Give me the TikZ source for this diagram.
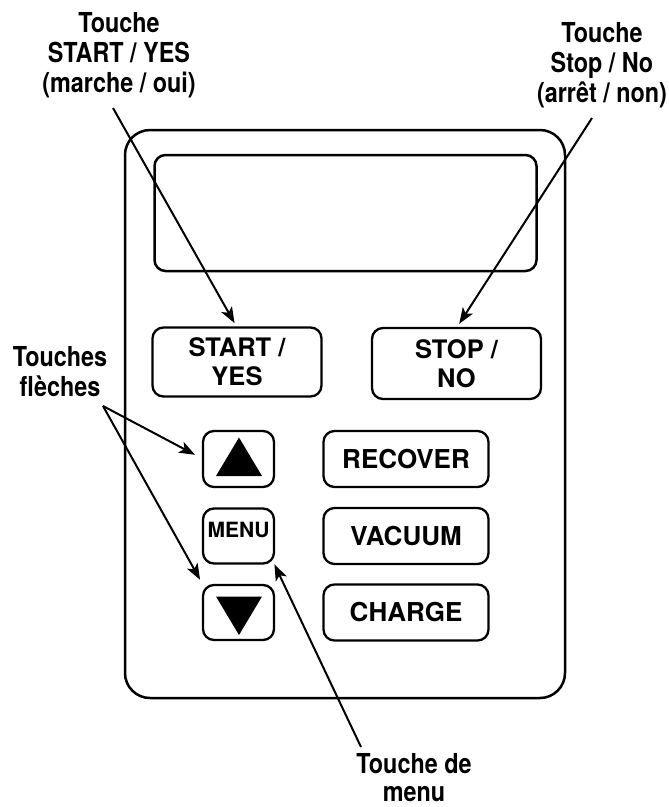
\documentclass[tikz,border=0pt]{standalone}
\usepackage{fontspec}
\setmainfont{TeX Gyre Heros}
\newfontfamily\calloutfont{TeX Gyre Heros}[FakeStretch=0.85]
\usetikzlibrary{arrows.meta, calc}

\begin{document}
\begin{tikzpicture}[
  x=1pt, y=-1pt,
  every node/.style={inner sep=0pt, outer sep=0pt},
  casing/.style={draw, line width=2.5pt, rounded corners=25pt},
  keycap/.style={draw, line width=2.3pt, rounded corners=11pt,
                 minimum width=165pt, minimum height=56pt, align=center,
                 font=\bfseries\fontsize{26}{29}\selectfont},
  smallkey/.style={keycap, minimum width=71pt},
  callout/.style={anchor=north, align=center,
                  font=\calloutfont\bfseries\fontsize{27.5}{30}\selectfont},
  arr/.style={-{Stealth[length=16pt, width=12pt, inset=4pt]}, line width=2pt},
]
  \useasboundingbox (0,0) rectangle (669,807);

  % housing and display
  \node[casing, minimum width=440pt, minimum height=568pt] (panel) at (345,414) {};
  \node[casing, rounded corners=11pt, minimum width=382pt, minimum height=116pt]
    (screen) at (345.5,213) {};

  % keys
  \node[keycap, minimum width=169pt, minimum height=69pt,
        font=\bfseries\fontsize{25.5}{29}\selectfont] (start) at (237,362) {START /\\YES};
  \node[keycap, minimum width=169pt, minimum height=71pt,
        font=\bfseries\fontsize{25.5}{29}\selectfont] (stop) at (456.5,363.5) {STOP /\\NO};
  \node[smallkey] (up)   at (238.5,459) {};
  \node[smallkey, minimum height=55pt, text depth=12pt,
        font=\bfseries\fontsize{21}{24}\selectfont] (menu) at (238.5,536) {MENU};
  \node[smallkey, minimum height=55pt] (down) at (238.5,612.5) {};
  \node[keycap] (recover) at (406,459)   {RECOVER};
  \node[keycap] (vacuum)  at (406,536)   {VACUUM};
  \node[keycap] (charge)  at (406,612.5) {CHARGE};

  % arrow glyphs on the small keys
  \fill ($(up.center)+(0.5,-21.5)$) -- ++(23,38.5) -- ++(-46,0) -- cycle;
  \fill ($(down.center)+(0.5,22.5)$) -- ++(23,-38.5) -- ++(-46,0) -- cycle;

  % callouts
  \node[callout] (yesLabel)   at (119,12)  {Touche\\START / YES\\(marche / oui)};
  \node[callout] (noLabel)    at (602,22)  {Touche\\Stop / No\\(arrêt / non)};
  \node[callout] (arrowLabel) at (60,346)  {Touches\\flèches};
  \node[callout, font=\calloutfont\bfseries\fontsize{27.5}{28.5}\selectfont]
    (menuLabel) at (414,753) {Touche de\\menu};

  \coordinate (yesTail)   at (113,108);
  \coordinate (noTail)    at (592,118);
  \coordinate (arrowTail) at (103,406);
  \coordinate (menuTail)  at (361,747);

  \draw[arr, shorten >=5pt] (yesTail) -- (start.north);
  \draw[arr, shorten >=5pt] (noTail) -- (stop.north);
  \draw[arr, shorten >=9pt] (arrowTail) -- (up.west);
  \draw[arr, shorten >=6pt] (arrowTail) -- (down.north west);
  \draw[arr, shorten >=1pt] (menuTail) -- (menu.south east);
\end{tikzpicture}
\end{document}
